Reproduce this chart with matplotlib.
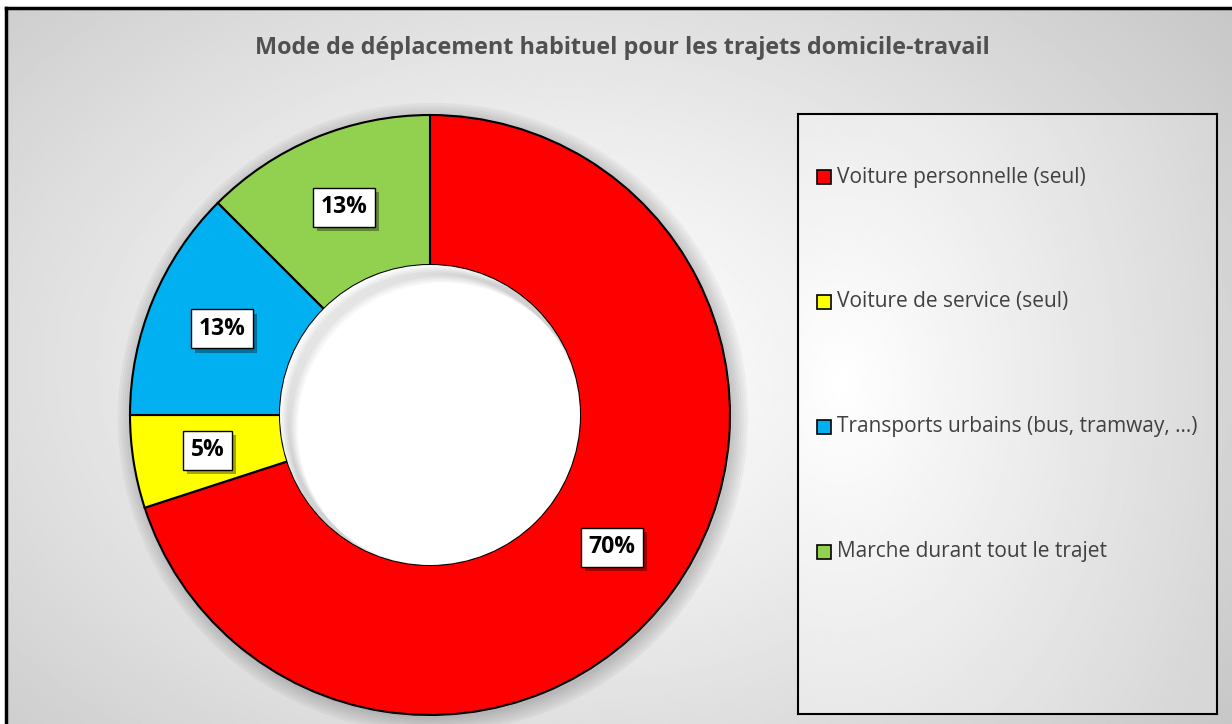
import numpy as np
import matplotlib.pyplot as plt
from matplotlib.patches import Circle, Rectangle
from matplotlib import patheffects

categories = ["Voiture personnelle (seul)", "Voiture de service (seul)",
              "Transports urbains (bus, tramway, ...)", "Marche durant tout le trajet"]
values = [70, 5, 12.5, 12.5]
colors = ["#FF0000", "#FFFF00", "#00B0F0", "#92D050"]
title = "Mode de déplacement habituel pour les trajets domicile-travail"

plt.rcParams['font.family'] = ['Open Sans', 'DejaVu Sans']

W, H = 1232, 724
fig = plt.figure(figsize=(W / 100, H / 100), dpi=100)
fig.patch.set_facecolor('white')

# fond gris en degrade radial
bg = fig.add_axes([6 / W, 0, (W - 6) / W, (H - 8) / H])
yy, xx = np.mgrid[0:1:300j, 0:1:500j]
d = np.sqrt(((xx - 0.45) / 0.72) ** 2 + ((yy - 0.5) / 0.85) ** 2)
shade = 1 - 0.23 * np.clip(d, 0, 1) ** 1.2
bg.imshow(shade, cmap='gray', vmin=0, vmax=1, extent=[0, 1, 0, 1], aspect='auto')
bg.set_xticks([])
bg.set_yticks([])
bg.spines['right'].set_visible(False)
bg.spines['bottom'].set_visible(False)
bg.spines['top'].set_linewidth(2.5)
bg.spines['left'].set_linewidth(2.5)

fig.text(622 / W, 1 - 48 / H, title, ha='center', va='center', fontsize=16.8,
         fontweight='bold', color='#505050')

# anneau
ax = fig.add_axes([(430 - 300) / W, (H - 415 - 300) / H, 600 / W, 600 / H])
for k in range(8):
    ax.add_patch(Circle((0.01, -0.01), 1.0 + k * 0.007, color='black', alpha=0.022,
                        zorder=0, clip_on=False))
wedges, _ = ax.pie(values, colors=colors, startangle=90, counterclock=False, radius=1,
                   wedgeprops=dict(width=0.5, edgecolor='black', linewidth=1.5))
ax.add_patch(Circle((0, 0), 0.5, facecolor='white', edgecolor='none', zorder=1))
# ombre interieure du trou
for k in range(6):
    ax.add_patch(Circle((0.015 + k * 0.006, -0.015 - k * 0.006), 0.5, facecolor='none',
                        edgecolor='black', lw=6, alpha=0.03, zorder=1,
                        clip_path=Circle((0, 0), 0.5, transform=ax.transData)))
ax.set_xlim(-1, 1)
ax.set_ylim(-1, 1)
ax.axis('off')

total = sum(values)
for w, v in zip(wedges, values):
    ang = np.deg2rad((w.theta1 + w.theta2) / 2)
    x, y = 0.75 * np.cos(ang), 0.75 * np.sin(ang)
    lab = f"{int(np.floor(v / total * 100 + 0.5))}%"
    t = ax.text(x, y, lab, ha='center', va='center', fontsize=16.5, fontweight='bold',
                color='black', zorder=5,
                bbox=dict(boxstyle='square,pad=0.33', fc='white', ec='black', lw=1))
    t.get_bbox_patch().set_path_effects([
        patheffects.SimplePatchShadow(offset=(3, -3), shadow_rgbFace='black', alpha=0.35),
        patheffects.Normal()])

# legende
lg = fig.add_axes([798 / W, (H - 714) / H, 419 / W, 600 / H])
yy2, xx2 = np.mgrid[0:1:200j, 0:1:200j]
d2 = np.sqrt(((xx2 - 0.1) / 1.0) ** 2 + ((yy2 - 0.45) / 1.0) ** 2)
lg.imshow(1 - 0.16 * np.clip(d2, 0, 1), cmap='gray', vmin=0, vmax=1,
          extent=[0, 1, 0, 1], aspect='auto')
lg.set_xlim(0, 1)
lg.set_ylim(0, 1)
lg.set_xticks([])
lg.set_yticks([])
for s in lg.spines.values():
    s.set_linewidth(1.5)
for i, (cat, c) in enumerate(zip(categories, colors)):
    yc = 0.895 - i * 0.2083
    lg.add_patch(Rectangle((0.045, yc - 0.0115), 0.033, 0.023, facecolor=c,
                           edgecolor='black', lw=1.2))
    lg.text(0.092, yc, cat, ha='left', va='center', fontsize=15, color='#404040')

fig.savefig('out.png', dpi=100)
